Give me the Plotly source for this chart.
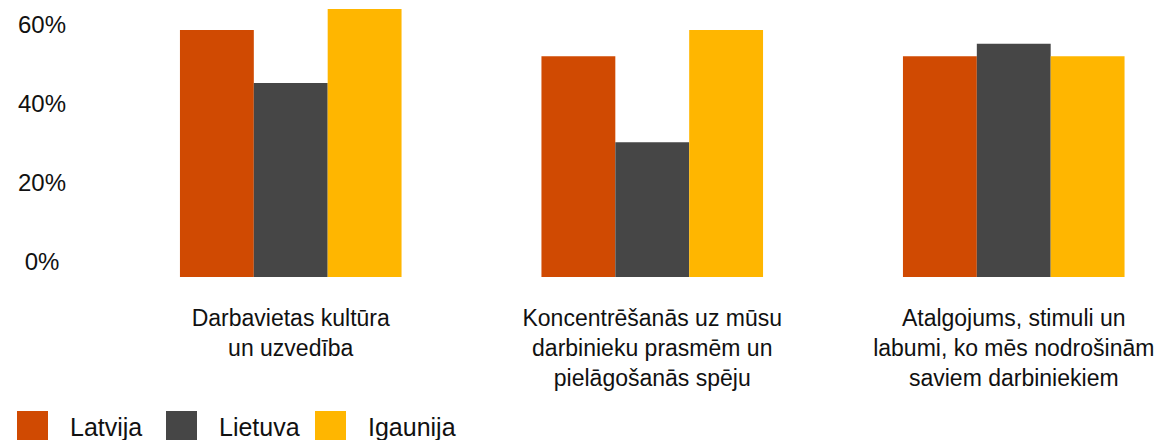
import plotly.graph_objects as go

## Data
categories = [
    "Darbavietas kultūra<br>un uzvedība",
    "Koncentrēšanās uz mūsu<br>darbinieku prasmēm un<br>pielāgošanās spēju",
    "Atalgojums, stimuli un<br>labumi, ko mēs nodrošinām<br>saviem darbiniekiem",
]
series_names = ["Latvija", "Lietuva", "Igaunija"]
latvija = [62.3, 55.7, 55.7]
lietuva = [48.9, 34.0, 58.8]
igaunija = [67.6, 62.3, 55.7]
tick_vals = [0, 20, 40, 60]
tick_text = ["0%\u2008", "20%", "40%", "60%"]

colors = ["#D04A02", "#464646", "#FFB600"]
font_family = "Liberation Sans, Arial, Helvetica, sans-serif"
text_color = "#111111"

W, H = 1165, 440
M_L, M_R, M_T, M_B = 110, 0, 0, 163
PLOT_W = W - M_L - M_R
PLOT_H = H - M_T - M_B


def px_x(px):
    # page pixel -> paper x
    return (px - M_L) / PLOT_W


def px_y(py):
    # page pixel -> paper y
    return (H - M_B - py) / PLOT_H


fig = go.Figure()
for name, vals, col in zip(series_names, [latvija, lietuva, igaunija], colors):
    fig.add_trace(go.Bar(
        x=categories,
        y=vals,
        name=name,
        marker=dict(color=col, line=dict(width=0)),
        showlegend=False,
        hoverinfo="skip",
    ))

# legend drawn by hand (big squares like the original)
legend_x = [17, 166, 315]
for name, col, lx in zip(series_names, colors, legend_x):
    fig.add_shape(
        type="rect", xref="paper", yref="paper",
        x0=px_x(lx), x1=px_x(lx + 31), y0=px_y(442), y1=px_y(411),
        fillcolor=col, line=dict(width=0), layer="above",
    )
    fig.add_annotation(
        xref="paper", yref="paper", x=px_x(lx + 51), y=px_y(427),
        text=name, showarrow=False, xanchor="left", yanchor="middle",
        font=dict(size=25, color=text_color, family=font_family),
    )

fig.update_layout(
    width=W,
    height=H,
    barmode="group",
    bargap=0.387,
    bargroupgap=0,
    plot_bgcolor="white",
    paper_bgcolor="white",
    margin=dict(l=M_L, r=M_R, t=M_T, b=M_B, pad=0),
    font=dict(family=font_family, size=22, color=text_color),
)
fig.update_xaxes(
    range=[-0.5, -0.5 + PLOT_W / 361.5],
    showgrid=False, showline=False, zeroline=False, ticks="",
    tickangle=0,
    ticklabelstandoff=25,
    tickfont=dict(size=23, color=text_color),
)
fig.update_yaxes(
    range=[0, PLOT_H / 3.965],
    tickvals=tick_vals,
    ticktext=tick_text,
    showgrid=False, showline=False, zeroline=False, ticks="",
    ticklabelshift=-15,
    ticklabelstandoff=43,
    tickfont=dict(size=24, color=text_color),
)

fig.write_html(
    "out.html",
    config={"displayModeBar": False},
    post_script="document.body.style.margin='0';",
)
